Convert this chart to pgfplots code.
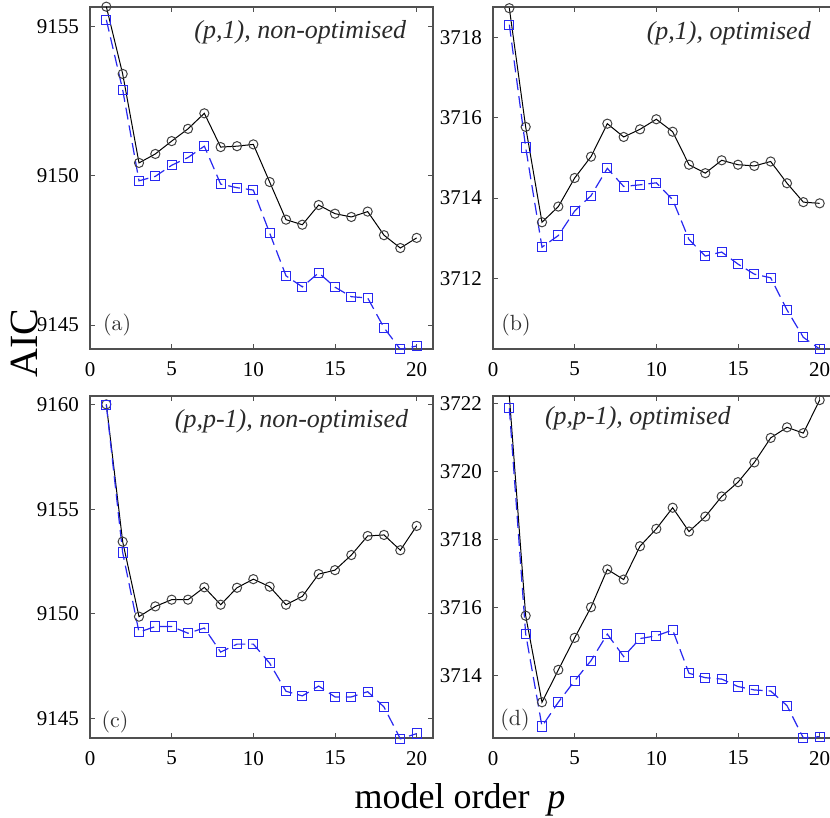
\documentclass[border=0pt]{standalone}
\usepackage{pgfplots}
\pgfplotsset{compat=1.18}
\usepackage{fontspec}
\setmainfont{Liberation Serif}
\newfontfamily\lmr{Latin Modern Roman}

\definecolor{frame}{HTML}{505050}
\definecolor{aicblue}{HTML}{2828F0}
\definecolor{titlegray}{HTML}{2A2A2A}

\pgfplotsset{
  panel/.style={
    scale only axis, width=171.5pt, height=171pt,
    xmin=0, xmax=21, xtick={0,5,10,15,20},
    tick align=inside, major tick length=2.5pt,
    axis line style={frame, line width=0.6pt},
    tick style={frame, line width=0.5pt},
    ticklabel style={font=\fontsize{10.5}{12}\selectfont},
    /pgf/number format/assume math mode=true,
    /pgf/number format/1000 sep={},
    scaled y ticks=false,
    xticklabel style={yshift=-3pt},
    yticklabel style={xshift=-2pt},
    clip=false,
  },
  aicA/.style={black, line width=0.5pt, mark=o, mark size=2.3pt,
    mark options={solid, line width=0.5pt, draw=black!75}},
  aicB/.style={aicblue, line width=0.6pt, dash pattern=on 6pt off 3pt,
    mark=square, mark size=2.3pt, mark options={solid, line width=0.5pt}},
}
\tikzset{
  ttl/.style={font=\fontsize{13}{15}\selectfont\itshape, text=titlegray},
  lbl/.style={font=\fontsize{11}{13}\lmr\selectfont, text=black!80},
}

\begin{document}
\begin{tikzpicture}
\useasboundingbox (0,0) rectangle (415pt,409pt);

% (a)
\begin{axis}[panel, at={(45pt,234.5pt)}, anchor=south west,
  ymin=9144.2, ymax=9155.65, ytick={9145,9150,9155}]
\addplot[aicA] coordinates {
 (1,9155.66) (2,9153.41) (3,9150.43) (4,9150.73) (5,9151.16)
 (6,9151.57) (7,9152.09) (8,9150.96) (9,9150.99) (10,9151.05)
 (11,9149.79) (12,9148.53) (13,9148.36) (14,9149.02) (15,9148.73)
 (16,9148.62) (17,9148.80) (18,9148.01) (19,9147.58) (20,9147.92)};
\addplot[aicB] coordinates {
 (1,9155.22) (2,9152.88) (3,9149.83) (4,9149.98) (5,9150.35)
 (6,9150.61) (7,9150.99) (8,9149.72) (9,9149.60) (10,9149.52)
 (11,9148.08) (12,9146.65) (13,9146.28) (14,9146.75) (15,9146.27)
 (16,9145.95) (17,9145.91) (18,9144.91) (19,9144.19) (20,9144.30)};
\node[ttl, anchor=east] at (rel axis cs:0.942,0.927) {(p,1), non-optimised};
\node[lbl] at (rel axis cs:0.079,0.07) {(a)};
\end{axis}

% (b)
\begin{axis}[panel, at={(246.5pt,234.5pt)}, anchor=south west,
  ymin=3710.25, ymax=3718.75, ytick={3712,3714,3716,3718}]
\addplot[aicA] coordinates {
 (1,3718.72) (2,3715.77) (3,3713.40) (4,3713.79) (5,3714.50)
 (6,3715.03) (7,3715.85) (8,3715.52) (9,3715.71) (10,3715.96)
 (11,3715.65) (12,3714.83) (13,3714.62) (14,3714.94) (15,3714.83)
 (16,3714.80) (17,3714.91) (18,3714.37) (19,3713.90) (20,3713.87)};
\addplot[aicB] coordinates {
 (1,3718.31) (2,3715.26) (3,3712.78) (4,3713.07) (5,3713.68)
 (6,3714.06) (7,3714.74) (8,3714.29) (9,3714.33) (10,3714.38)
 (11,3713.96) (12,3712.97) (13,3712.56) (14,3712.66) (15,3712.36)
 (16,3712.11) (17,3712.02) (18,3711.22) (19,3710.54) (20,3710.25)};
\node[ttl, anchor=east] at (rel axis cs:0.947,0.924) {(p,1), optimised};
\node[lbl] at (rel axis cs:0.067,0.07) {(b)};
\end{axis}

% (c)
\begin{axis}[panel, at={(45pt,40pt)}, anchor=south west,
  ymin=9144.08, ymax=9160.4, ytick={9145,9150,9155,9160}]
\addplot[aicA] coordinates {
 (1,9160.00) (2,9153.45) (3,9149.87) (4,9150.36) (5,9150.68)
 (6,9150.68) (7,9151.27) (8,9150.44) (9,9151.25) (10,9151.66)
 (11,9151.30) (12,9150.44) (13,9150.84) (14,9151.90) (15,9152.09)
 (16,9152.81) (17,9153.72) (18,9153.77) (19,9153.04) (20,9154.20)};
\addplot[aicB] coordinates {
 (1,9159.98) (2,9152.93) (3,9149.13) (4,9149.40) (5,9149.40)
 (6,9149.08) (7,9149.33) (8,9148.18) (9,9148.56) (10,9148.56)
 (11,9147.65) (12,9146.31) (13,9146.09) (14,9146.56) (15,9146.04)
 (16,9146.04) (17,9146.29) (18,9145.56) (19,9144.04) (20,9144.29)};
\node[ttl, anchor=east] at (rel axis cs:0.948,0.927) {(p,p-1), non-optimised};
\node[lbl] at (rel axis cs:0.073,0.047) {(c)};
\end{axis}

% (d) -- first black point sits on the frame, unmarked
\begin{axis}[panel, at={(246.5pt,40pt)}, anchor=south west,
  ymin=3712.18, ymax=3722.22, ytick={3714,3716,3718,3720,3722}]
\addplot[aicA, mark indices={2,3,4,5,6,7,8,9,10,11,12,13,14,15,16,17,18,19,20}] coordinates {
 (1,3722.22) (2,3715.77) (3,3713.23) (4,3714.18) (5,3715.12)
 (6,3716.02) (7,3717.13) (8,3716.83) (9,3717.81) (10,3718.32)
 (11,3718.94) (12,3718.24) (13,3718.68) (14,3719.27) (15,3719.69)
 (16,3720.27) (17,3720.99) (18,3721.30) (19,3721.13) (20,3722.10)};
\addplot[aicB] coordinates {
 (1,3721.86) (2,3715.24) (3,3712.52) (4,3713.23) (5,3713.86)
 (6,3714.45) (7,3715.23) (8,3714.57) (9,3715.10) (10,3715.18)
 (11,3715.35) (12,3714.08) (13,3713.95) (14,3713.91) (15,3713.69)
 (16,3713.59) (17,3713.56) (18,3713.13) (19,3712.18) (20,3712.22)};
\node[ttl, anchor=west] at (rel axis cs:0.131,0.936) {(p,p-1), optimised};
\node[lbl] at (rel axis cs:0.064,0.052) {(d)};
\end{axis}

\node[rotate=90, font=\fontsize{20}{24}\selectfont] at (12pt,237.5pt) {AIC};
\node[font=\fontsize{18}{22}\selectfont] at (230pt,9pt) {model order\ \ \textit{p}};
\end{tikzpicture}
\end{document}
